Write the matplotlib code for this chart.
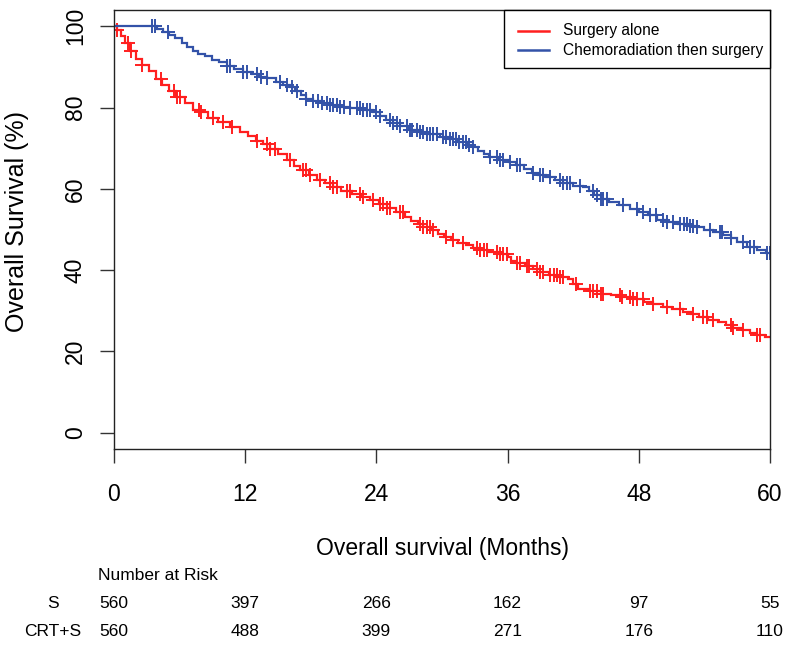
import numpy as np
import matplotlib
matplotlib.use("Agg")
import matplotlib.pyplot as plt
from matplotlib.transforms import blended_transform_factory
from matplotlib.patches import Rectangle
from matplotlib.lines import Line2D

plt.rcParams['font.family'] = ['Liberation Sans', 'DejaVu Sans']

# ---------------- data ----------------
series_names = ["Surgery alone", "Chemoradiation then surgery"]

s_time = [0, 0.3, 0.6, 1.0, 1.5, 2.0, 2.6, 3.2, 3.8, 4.4, 5.0, 5.7, 6.5, 7.2, 7.9, 8.6,
          9.5, 10.6, 11.5, 12.3, 13.0, 13.6, 14.3, 15.0, 15.8, 16.5, 17.0, 17.8, 18.6,
          19.3, 20.0, 20.8, 21.8, 22.6, 23.4, 24.2, 25.0, 25.8, 26.6, 27.2, 27.8, 28.3,
          29.0, 29.6, 30.2, 30.8, 31.5, 32.2, 32.8, 33.5, 34.2, 35.2, 36.0, 36.3, 36.8,
          37.6, 38.3, 39.0, 39.8, 40.6, 41.5, 42.0, 42.4, 43.5, 44.5, 45.5, 46.5, 47.5,
          48.5, 49.3, 50.2, 51.0, 52.0, 52.8, 53.5, 54.3, 55.2, 56.0, 56.6, 57.4, 58.2,
          58.8, 59.5, 60.0]
s_surv = [100, 99, 97.5, 96, 94, 92, 90.5, 89, 87, 85.5, 84, 82.6, 81, 79.5, 78.8, 77.5,
          76.5, 75.2, 74, 73, 71.8, 71, 69.8, 68.5, 67, 65.6, 64.6, 63.4, 62.3,
          61.4, 60.5, 59.5, 58.8, 58, 57.2, 56.2, 55.2, 54.2, 53, 52.2, 51.3, 50.6,
          49.9, 49, 48.2, 47.5, 46.8, 46.2, 45.5, 45, 44.5, 44, 43.2, 42.2, 41.8,
          41, 40.3, 39.5, 38.8, 38.3, 37.8, 36.5, 35.4, 34.8, 34.2, 33.8, 33.4, 32.8,
          32.2, 31.6, 31, 30.4, 29.8, 29.2, 28.5, 27.8, 27.2, 26.5, 25.8, 25.2, 24.6,
          24.1, 23.6, 23.5]
s_censor = [0.3, 1.3, 1.6, 2.6, 4.3, 5.5, 5.8, 6.0, 7.8, 8.0, 9.1, 10.0, 10.8, 13.1, 14.0,
            14.3, 14.7, 16.1, 17.3, 17.6, 17.9, 18.8, 19.8, 20.0, 20.4, 21.3, 21.6, 22.5,
            22.8, 23.7, 24.3, 24.6, 25.0, 25.2, 26.2, 26.4, 28.0, 28.3, 28.6, 28.9, 29.2,
            30.4, 31.0, 31.9, 33.2, 33.5, 33.8, 34.1, 35.0, 35.3, 35.6, 35.9, 36.9, 37.1,
            37.8, 38.0, 38.7, 39.0, 39.2, 39.9, 40.2, 40.5, 40.8, 41.1, 42.3, 43.5, 43.8,
            44.2, 44.5, 44.7, 46.3, 46.5, 47.2, 47.5, 47.8, 48.4, 49.3, 50.6, 51.8, 53.0,
            53.9, 54.2, 54.8, 56.4, 56.6, 57.5, 58.8, 59.1]

c_time = [0, 3.4, 3.9, 4.5, 5.0, 5.6, 6.2, 6.7, 7.2, 7.7, 8.3, 9.0, 9.6, 10.3, 11.0, 11.8,
          12.6, 13.3, 14.0, 14.8, 15.5, 16.1, 16.6, 17.1, 17.6, 18.2, 19.0, 19.8, 20.6,
          21.6, 22.6, 23.7, 24.3, 24.9, 25.5, 26.2, 27.0, 27.8, 28.6, 29.8, 30.6, 31.5,
          32.3, 32.8, 33.3, 33.8, 34.3, 35.2, 36.1, 36.8, 37.5, 38.2, 38.8, 39.5, 40.3,
          41.1, 42.0, 42.9, 43.4, 43.9, 44.5, 45.3, 46.2, 47.2, 48.0, 48.8, 49.7, 50.6,
          51.6, 52.5, 53.3, 54.0, 54.8, 55.7, 56.4, 57.0, 57.9, 58.8, 59.6, 60.0]
c_surv = [100, 100, 99.4, 98.6, 97.8, 97, 95.8, 94.8, 94, 93.2, 92.6, 91.8, 91.2, 90.2, 89.5, 88.7,
          88.2, 87.6, 87.2, 86.4, 85.6, 85, 84, 83, 82.2, 81.5, 81, 80.6, 80.2,
          79.8, 79.4, 78.9, 78, 77, 76.2, 75.5, 74.6, 74, 73.4, 72.7, 72.3, 71.5,
          70.8, 70.3, 69.4, 68.5, 67.8, 67.2, 66.6, 65.8, 65, 64, 63.4, 62.8, 62.2,
          61.4, 60.8, 60.4, 59.4, 58.5, 57.6, 56.8, 56, 55, 54.2, 53.5, 52.4, 51.8,
          51.3, 50.9, 50.6, 50, 49.3, 48.6, 47.8, 47, 45.8, 45, 44.3, 44.2]
c_censor = [3.5, 3.75, 4.9, 10.3, 10.6, 11.8, 12.2, 13.1, 13.4, 14.0, 15.2, 15.8, 16.3, 16.7,
            17.6, 18.2, 18.7, 19.0, 19.5, 19.8, 20.0, 20.4, 20.7, 21.0, 21.6, 22.2, 22.5,
            22.8, 23.1, 23.4, 24.0, 24.3, 25.2, 25.5, 25.9, 26.2, 26.8, 27.1, 27.3, 27.7,
            28.0, 28.3, 28.6, 28.9, 29.2, 29.5, 30.1, 30.4, 30.7, 31.0, 31.3, 31.6, 31.9,
            32.2, 32.5, 32.8, 34.4, 35.0, 35.3, 35.6, 36.2, 36.9, 37.1, 38.3, 39.0, 39.2,
            39.9, 40.8, 41.1, 41.4, 41.7, 42.6, 43.8, 44.2, 44.5, 44.7, 45.1, 46.6, 47.8,
            48.4, 49.0, 49.6, 50.2, 50.6, 51.1, 51.8, 52.1, 52.4, 52.7, 53.0, 53.3, 54.5,
            55.4, 55.6, 56.4, 57.5, 58.2, 58.5, 59.7, 60.0]

risk_times = [0, 12, 24, 36, 48, 60]
risk_labels = ["S", "CRT+S"]
risk_s = [560, 397, 266, 162, 97, 55]
risk_c = [560, 488, 399, 271, 176, 110]

x_ticks = [0, 12, 24, 36, 48, 60]
y_ticks = [0, 20, 40, 60, 80, 100]

red = '#FF1F1F'
blue = '#3352A8'

# ---------------- figure ----------------
W, H = 794, 646
fig = plt.figure(figsize=(W / 100, H / 100), dpi=100)
L, R, T, B = 114, 770, 10, 449
ax = fig.add_axes([L / W, 1 - B / H, (R - L) / W, (B - T) / H])


def step_value(tk, sk, t):
    tk = np.asarray(tk)
    sk = np.asarray(sk)
    idx = np.searchsorted(tk, np.asarray(t), side='right') - 1
    idx = np.clip(idx, 0, len(sk) - 1)
    return sk[idx]


colors = [red, blue]
for tk, sk, cens, col in [(s_time, s_surv, s_censor, red),
                          (c_time, c_surv, c_censor, blue)]:
    ax.plot(tk, sk, drawstyle='steps-post', color=col, lw=1.6,
            solid_joinstyle='miter')
    ax.plot(cens, step_value(tk, sk, cens), linestyle='none', marker='+',
            color=col, markersize=10.5, markeredgewidth=1.4)

ax.set_xlim(0, 60)
ax.set_ylim(-4, 104)
ax.set_xticks(x_ticks)
ax.set_yticks(y_ticks)
ax.set_xticklabels([str(v) for v in x_ticks], fontsize=16.5)
ax.set_yticklabels([str(v) for v in y_ticks], fontsize=16.5, rotation=90, va='center')
ax.tick_params(axis='both', direction='out', length=10, width=1.0, color='#333333')
ax.tick_params(axis='x', pad=14.4)
ax.tick_params(axis='y', pad=9.6)
for sp in ax.spines.values():
    sp.set_linewidth(1.0)
    sp.set_color('#222222')


def px(xp, yp):
    """pixel position -> figure fraction"""
    return xp / W, 1 - yp / H


fig.text(*px(17, 222), "Overall Survival (%)", fontsize=18, rotation=90,
         ha='center', va='center')
fig.text(*px((L + R) / 2, 548), "Overall survival (Months)", fontsize=16.5,
         ha='center', va='center')

# legend (drawn as a boxed key in the upper-right corner)
lx0, lx1, ly0, ly1 = 504, 770, 10, 68
fig.patches.append(Rectangle(px(lx0, ly1), (lx1 - lx0) / W, (ly1 - ly0) / H,
                             transform=fig.transFigure, facecolor='white',
                             edgecolor='black', linewidth=1.0, zorder=5))
for i, (name, col) in enumerate(zip(series_names, colors)):
    yp = 31 + 19 * i
    fig.lines.append(Line2D([518 / W, 549 / W], [1 - yp / H, 1 - yp / H],
                            transform=fig.transFigure, color=col, lw=1.8, zorder=6))
    fig.text(*px(563, yp), name, fontsize=11.2, ha='left', va='center', zorder=6)

# number at risk table
bt = blended_transform_factory(ax.transData, fig.transFigure)
fig.text(*px(98, 576), "Number at Risk", fontsize=12.5, ha='left', va='center')
for lab, vals, yp in [(risk_labels[0], risk_s, 603), (risk_labels[1], risk_c, 631)]:
    fig.text(*px(53, yp), lab, fontsize=12.5, ha='center', va='center')
    for t, v in zip(risk_times, vals):
        ax.text(t, 1 - yp / H, str(v), transform=bt, fontsize=12.5, ha='center',
                va='center', clip_on=False)

fig.savefig("out.png", dpi=100)
